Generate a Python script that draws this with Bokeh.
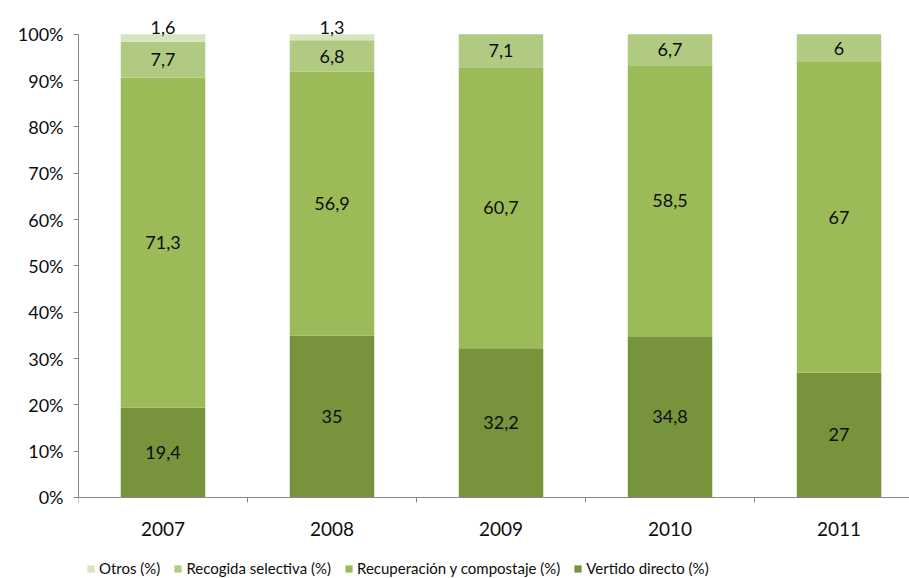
from bokeh.plotting import figure
from bokeh.models import (Range1d, FixedTicker, PrintfTickFormatter, Legend, LegendItem,
                          ColumnDataSource)
from bokeh.core.properties import value
from bokeh.embed import file_html
from bokeh.resources import INLINE

years = ["2007", "2008", "2009", "2010", "2011"]
vertido = [19.4, 35, 32.2, 34.8, 27]
recuperacion = [71.3, 56.9, 60.7, 58.5, 67]
recogida = [7.7, 6.8, 7.1, 6.7, 6]
otros = [1.6, 1.3, 0, 0, 0]
y_ticks = [0, 10, 20, 30, 40, 50, 60, 70, 80, 90, 100]

series = [("Vertido directo (%)", vertido, "#77933C"),
          ("Recuperación y compostaje (%)", recuperacion, "#9BBB59"),
          ("Recogida selectiva (%)", recogida, "#B1CA82"),
          ("Otros (%)", otros, "#D7E4BD")]

FONT = "Lato"
xs = list(range(len(years)))

p = figure(width=909, height=578, output_backend="svg", toolbar_location=None,
           x_range=Range1d(-0.5, 4.417), y_range=Range1d(-17.49, 107.3),
           min_border_left=78, min_border_top=0, min_border_right=0, min_border_bottom=0)
p.outline_line_color = None
p.xgrid.visible = False
p.ygrid.visible = False


def fmt(v):
    return ("%g" % v).replace(".", ",")


renderers = []
bottom = [0.0] * len(years)
for name, vals, color in series:
    top = [b + v for b, v in zip(bottom, vals)]
    src = ColumnDataSource(dict(x=xs, bottom=bottom, top=top))
    r = p.vbar(x="x", bottom="bottom", top="top", width=0.5, source=src,
               fill_color=color, line_color=None)
    renderers.append((name, r))
    lx, ly, lt = [], [], []
    for i, v in enumerate(vals):
        if v <= 0:
            continue
        lx.append(xs[i])
        lt.append(fmt(v))
        ly.append(top[i] if name == "Otros (%)" else (bottom[i] + top[i]) / 2)
    lsrc = ColumnDataSource(dict(x=lx, y=ly, t=lt))
    p.text(x="x", y="y", text="t", source=lsrc, text_align="center",
           text_baseline="bottom" if name == "Otros (%)" else "middle",
           text_font=value(FONT), text_font_size="18px", text_color="#0d0d0d")
    bottom = top

ax = p.xaxis[0]
ax.fixed_location = 0
ax.ticker = FixedTicker(ticks=xs, minor_ticks=[-0.5, 0.5, 1.5, 2.5, 3.5, 4.5])
ax.major_label_overrides = {i: y for i, y in zip(xs, years)}
ax.major_tick_in = 0
ax.major_tick_out = 0
ax.minor_tick_in = 0
ax.minor_tick_out = 5
ax.minor_tick_line_color = "#868686"
ax.axis_line_color = "#868686"
ax.major_label_text_font = FONT
ax.major_label_text_font_size = "19px"
ax.major_label_text_color = "#0d0d0d"
ax.major_label_standoff = 20

ay = p.yaxis[0]
ay.ticker = FixedTicker(ticks=y_ticks)
ay.formatter = PrintfTickFormatter(format="%d%%")
ay.bounds = (0, 100)
ay.major_tick_in = 0
ay.major_tick_out = 5
ay.minor_tick_line_color = None
ay.major_tick_line_color = "#868686"
ay.axis_line_color = "#868686"
ay.major_label_text_font = FONT
ay.major_label_text_font_size = "18px"
ay.major_label_text_color = "#0d0d0d"
ay.major_label_standoff = 10

items = [LegendItem(label=name, renderers=[r]) for name, r in reversed(renderers)]
legend = Legend(items=items, orientation="horizontal", location=(8, 1),
                label_text_font=FONT, label_text_font_size="15px",
                label_text_color="#0d0d0d", glyph_width=9, glyph_height=9,
                label_standoff=4, spacing=13, padding=2, margin=0,
                border_line_color=None, background_fill_alpha=0)
p.add_layout(legend, "center")

open("out.html", "w").write(file_html(p, INLINE))
